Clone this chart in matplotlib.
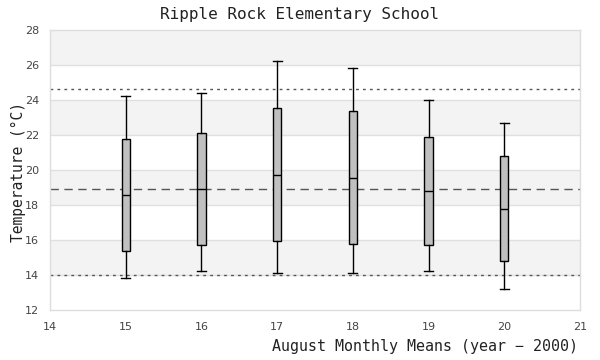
import matplotlib
matplotlib.use("Agg")
import matplotlib.pyplot as plt

years = [15, 16, 17, 18, 19, 20]
whisker_low = [13.81, 14.21, 14.10, 14.11, 14.21, 13.18]
q1 = [15.35, 15.70, 15.93, 15.77, 15.70, 14.78]
median = [18.55, 18.90, 19.70, 19.54, 18.78, 17.77]
q3 = [21.75, 22.10, 23.53, 23.37, 21.87, 20.78]
whisker_high = [24.21, 24.38, 26.23, 25.83, 23.98, 22.67]
mean_line = 18.9
lower_line = 13.98
upper_line = 24.61
yticks = [12, 14, 16, 18, 20, 22, 24, 26, 28]
xticks = [14, 15, 16, 17, 18, 19, 20, 21]

fig = plt.figure(figsize=(6, 3.6), dpi=100)
ax = fig.add_axes([50/600, 1-310/360, 530/600, 280/360])

ax.set_xlim(14, 21)
ax.set_ylim(12, 28)

# bands
for i in range(len(yticks)-1):
    lo, hi = yticks[i], yticks[i+1]
    if i % 2 == 1:
        ax.axhspan(lo, hi, color='#f3f3f3', zorder=0, lw=0)
for y in yticks[1:-1]:
    ax.axhline(y, color='#e0e0e0', lw=1, zorder=0.5)

ax.axhline(upper_line, color='#555555', lw=1, ls=(0, (2, 3)), zorder=1)
ax.axhline(lower_line, color='#555555', lw=1, ls=(0, (2, 3)), zorder=1)
ax.axhline(mean_line, color='#555555', lw=1, ls=(0, (6, 4)), zorder=1)

stats = []
for i in range(len(years)):
    stats.append(dict(whislo=whisker_low[i], q1=q1[i], med=median[i],
                      q3=q3[i], whishi=whisker_high[i], fliers=[]))
ax.bxp(stats, positions=years, widths=0.11, patch_artist=True,
       showfliers=False, manage_ticks=False,
       boxprops=dict(facecolor='#c0c0c0', edgecolor='black', lw=1.0),
       medianprops=dict(color='black', lw=1.0),
       whiskerprops=dict(color='black', lw=1.0),
       capprops=dict(color='black', lw=1.0),
       capwidths=0.12, zorder=3)

ax.set_xticks(xticks)
ax.set_yticks(yticks)
ax.tick_params(length=0, labelsize=8, labelcolor='#444444', pad=8)
ax.tick_params(axis='x', pad=9)
for s in ax.spines.values():
    s.set_color('#dddddd')
    s.set_linewidth(1)

fig.text(0.5, 1-14/360, 'Ripple Rock Elementary School', ha='center', va='center',
         family='DejaVu Sans Mono', fontsize=11.5, color='#222222')
fig.text(578/600, 1-347/360, 'August Monthly Means (year \u2212 2000)', ha='right', va='center',
         family='DejaVu Sans Mono', fontsize=10.8, color='#222222')
fig.text(18/600, 1-172/360, 'Temperature (\u00b0C)', ha='center', va='center', rotation=90,
         family='DejaVu Sans Mono', fontsize=10.5, color='#222222')

fig.savefig('out.png', dpi=100)
